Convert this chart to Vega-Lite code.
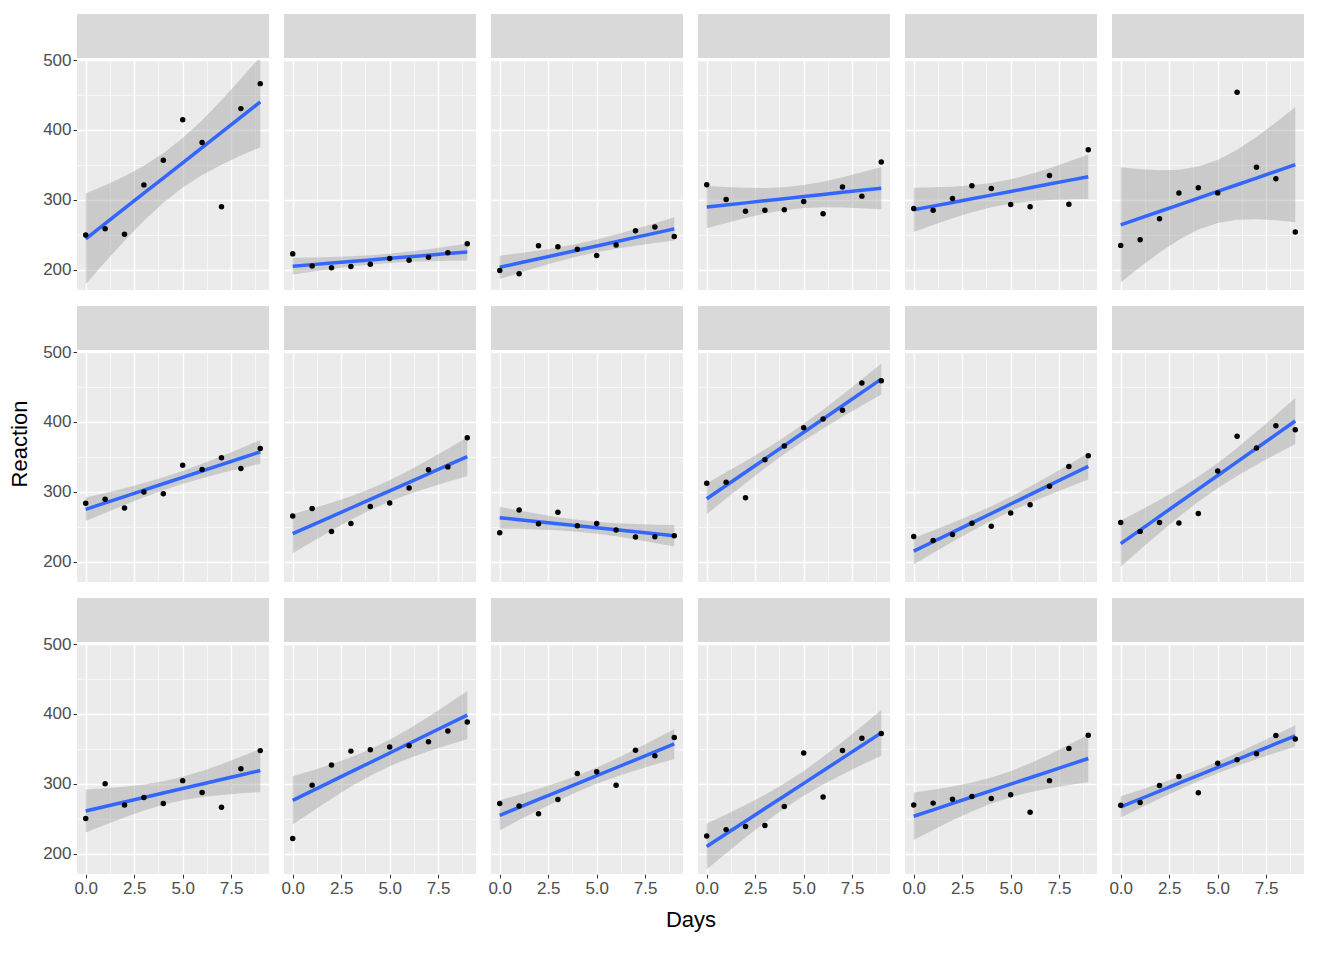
{
  "$schema": "https://vega.github.io/schema/vega-lite/v6.json",
  "background": "white",
  "padding": {"left": 8, "top": 14, "right": 5, "bottom": 5},
  "datasets": {
    "subjects": [
      {"Subject": 308, "r": 1, "c": 1}, {"Subject": 309, "r": 1, "c": 2}, {"Subject": 310, "r": 1, "c": 3},
      {"Subject": 330, "r": 1, "c": 4}, {"Subject": 331, "r": 1, "c": 5}, {"Subject": 332, "r": 1, "c": 6},
      {"Subject": 333, "r": 2, "c": 1}, {"Subject": 334, "r": 2, "c": 2}, {"Subject": 335, "r": 2, "c": 3},
      {"Subject": 337, "r": 2, "c": 4}, {"Subject": 349, "r": 2, "c": 5}, {"Subject": 350, "r": 2, "c": 6},
      {"Subject": 351, "r": 3, "c": 1}, {"Subject": 352, "r": 3, "c": 2}, {"Subject": 369, "r": 3, "c": 3},
      {"Subject": 370, "r": 3, "c": 4}, {"Subject": 371, "r": 3, "c": 5}, {"Subject": 372, "r": 3, "c": 6}
    ]
  },
  "data": {"values": [
    {"Subject":308,"Days":0,"Reaction":249.56},{"Subject":308,"Days":1,"Reaction":258.70},{"Subject":308,"Days":2,"Reaction":250.80},{"Subject":308,"Days":3,"Reaction":321.44},{"Subject":308,"Days":4,"Reaction":356.85},{"Subject":308,"Days":5,"Reaction":414.69},{"Subject":308,"Days":6,"Reaction":382.20},{"Subject":308,"Days":7,"Reaction":290.15},{"Subject":308,"Days":8,"Reaction":430.59},{"Subject":308,"Days":9,"Reaction":466.35},
    {"Subject":309,"Days":0,"Reaction":222.73},{"Subject":309,"Days":1,"Reaction":205.27},{"Subject":309,"Days":2,"Reaction":202.98},{"Subject":309,"Days":3,"Reaction":204.71},{"Subject":309,"Days":4,"Reaction":207.72},{"Subject":309,"Days":5,"Reaction":215.96},{"Subject":309,"Days":6,"Reaction":213.63},{"Subject":309,"Days":7,"Reaction":217.73},{"Subject":309,"Days":8,"Reaction":224.30},{"Subject":309,"Days":9,"Reaction":237.31},
    {"Subject":310,"Days":0,"Reaction":199.05},{"Subject":310,"Days":1,"Reaction":194.33},{"Subject":310,"Days":2,"Reaction":234.32},{"Subject":310,"Days":3,"Reaction":232.84},{"Subject":310,"Days":4,"Reaction":229.31},{"Subject":310,"Days":5,"Reaction":220.46},{"Subject":310,"Days":6,"Reaction":235.42},{"Subject":310,"Days":7,"Reaction":255.75},{"Subject":310,"Days":8,"Reaction":261.01},{"Subject":310,"Days":9,"Reaction":247.52},
    {"Subject":330,"Days":0,"Reaction":321.54},{"Subject":330,"Days":1,"Reaction":300.40},{"Subject":330,"Days":2,"Reaction":283.86},{"Subject":330,"Days":3,"Reaction":285.13},{"Subject":330,"Days":4,"Reaction":285.80},{"Subject":330,"Days":5,"Reaction":297.59},{"Subject":330,"Days":6,"Reaction":280.24},{"Subject":330,"Days":7,"Reaction":318.26},{"Subject":330,"Days":8,"Reaction":305.35},{"Subject":330,"Days":9,"Reaction":354.05},
    {"Subject":331,"Days":0,"Reaction":287.61},{"Subject":331,"Days":1,"Reaction":285.00},{"Subject":331,"Days":2,"Reaction":301.82},{"Subject":331,"Days":3,"Reaction":320.12},{"Subject":331,"Days":4,"Reaction":316.28},{"Subject":331,"Days":5,"Reaction":293.32},{"Subject":331,"Days":6,"Reaction":290.08},{"Subject":331,"Days":7,"Reaction":334.82},{"Subject":331,"Days":8,"Reaction":293.75},{"Subject":331,"Days":9,"Reaction":371.58},
    {"Subject":332,"Days":0,"Reaction":234.86},{"Subject":332,"Days":1,"Reaction":242.81},{"Subject":332,"Days":2,"Reaction":272.96},{"Subject":332,"Days":3,"Reaction":309.77},{"Subject":332,"Days":4,"Reaction":317.46},{"Subject":332,"Days":5,"Reaction":310.00},{"Subject":332,"Days":6,"Reaction":454.16},{"Subject":332,"Days":7,"Reaction":346.83},{"Subject":332,"Days":8,"Reaction":330.30},{"Subject":332,"Days":9,"Reaction":253.86},
    {"Subject":333,"Days":0,"Reaction":283.84},{"Subject":333,"Days":1,"Reaction":289.56},{"Subject":333,"Days":2,"Reaction":276.77},{"Subject":333,"Days":3,"Reaction":299.81},{"Subject":333,"Days":4,"Reaction":297.17},{"Subject":333,"Days":5,"Reaction":338.17},{"Subject":333,"Days":6,"Reaction":332.03},{"Subject":333,"Days":7,"Reaction":348.84},{"Subject":333,"Days":8,"Reaction":333.36},{"Subject":333,"Days":9,"Reaction":362.04},
    {"Subject":334,"Days":0,"Reaction":265.47},{"Subject":334,"Days":1,"Reaction":276.20},{"Subject":334,"Days":2,"Reaction":243.36},{"Subject":334,"Days":3,"Reaction":254.67},{"Subject":334,"Days":4,"Reaction":279.02},{"Subject":334,"Days":5,"Reaction":284.19},{"Subject":334,"Days":6,"Reaction":305.52},{"Subject":334,"Days":7,"Reaction":331.52},{"Subject":334,"Days":8,"Reaction":335.75},{"Subject":334,"Days":9,"Reaction":377.30},
    {"Subject":335,"Days":0,"Reaction":241.61},{"Subject":335,"Days":1,"Reaction":273.95},{"Subject":335,"Days":2,"Reaction":254.49},{"Subject":335,"Days":3,"Reaction":270.80},{"Subject":335,"Days":4,"Reaction":251.45},{"Subject":335,"Days":5,"Reaction":254.64},{"Subject":335,"Days":6,"Reaction":245.45},{"Subject":335,"Days":7,"Reaction":235.31},{"Subject":335,"Days":8,"Reaction":235.75},{"Subject":335,"Days":9,"Reaction":237.25},
    {"Subject":337,"Days":0,"Reaction":312.37},{"Subject":337,"Days":1,"Reaction":313.81},{"Subject":337,"Days":2,"Reaction":291.61},{"Subject":337,"Days":3,"Reaction":346.12},{"Subject":337,"Days":4,"Reaction":365.73},{"Subject":337,"Days":5,"Reaction":391.84},{"Subject":337,"Days":6,"Reaction":404.26},{"Subject":337,"Days":7,"Reaction":416.69},{"Subject":337,"Days":8,"Reaction":455.86},{"Subject":337,"Days":9,"Reaction":458.92},
    {"Subject":349,"Days":0,"Reaction":236.10},{"Subject":349,"Days":1,"Reaction":230.32},{"Subject":349,"Days":2,"Reaction":238.93},{"Subject":349,"Days":3,"Reaction":254.92},{"Subject":349,"Days":4,"Reaction":250.71},{"Subject":349,"Days":5,"Reaction":269.77},{"Subject":349,"Days":6,"Reaction":281.56},{"Subject":349,"Days":7,"Reaction":308.10},{"Subject":349,"Days":8,"Reaction":336.28},{"Subject":349,"Days":9,"Reaction":351.65},
    {"Subject":350,"Days":0,"Reaction":256.30},{"Subject":350,"Days":1,"Reaction":243.45},{"Subject":350,"Days":2,"Reaction":256.20},{"Subject":350,"Days":3,"Reaction":255.53},{"Subject":350,"Days":4,"Reaction":268.92},{"Subject":350,"Days":5,"Reaction":329.72},{"Subject":350,"Days":6,"Reaction":379.44},{"Subject":350,"Days":7,"Reaction":362.92},{"Subject":350,"Days":8,"Reaction":394.49},{"Subject":350,"Days":9,"Reaction":389.05},
    {"Subject":351,"Days":0,"Reaction":250.53},{"Subject":351,"Days":1,"Reaction":300.06},{"Subject":351,"Days":2,"Reaction":269.89},{"Subject":351,"Days":3,"Reaction":280.59},{"Subject":351,"Days":4,"Reaction":271.83},{"Subject":351,"Days":5,"Reaction":304.63},{"Subject":351,"Days":6,"Reaction":287.75},{"Subject":351,"Days":7,"Reaction":266.60},{"Subject":351,"Days":8,"Reaction":321.54},{"Subject":351,"Days":9,"Reaction":347.57},
    {"Subject":352,"Days":0,"Reaction":221.68},{"Subject":352,"Days":1,"Reaction":298.19},{"Subject":352,"Days":2,"Reaction":326.88},{"Subject":352,"Days":3,"Reaction":346.86},{"Subject":352,"Days":4,"Reaction":348.74},{"Subject":352,"Days":5,"Reaction":352.83},{"Subject":352,"Days":6,"Reaction":354.43},{"Subject":352,"Days":7,"Reaction":360.43},{"Subject":352,"Days":8,"Reaction":375.64},{"Subject":352,"Days":9,"Reaction":388.54},
    {"Subject":369,"Days":0,"Reaction":271.92},{"Subject":369,"Days":1,"Reaction":268.44},{"Subject":369,"Days":2,"Reaction":257.24},{"Subject":369,"Days":3,"Reaction":277.66},{"Subject":369,"Days":4,"Reaction":314.82},{"Subject":369,"Days":5,"Reaction":317.21},{"Subject":369,"Days":6,"Reaction":298.14},{"Subject":369,"Days":7,"Reaction":348.12},{"Subject":369,"Days":8,"Reaction":340.28},{"Subject":369,"Days":9,"Reaction":366.51},
    {"Subject":370,"Days":0,"Reaction":225.26},{"Subject":370,"Days":1,"Reaction":234.52},{"Subject":370,"Days":2,"Reaction":238.90},{"Subject":370,"Days":3,"Reaction":240.47},{"Subject":370,"Days":4,"Reaction":267.54},{"Subject":370,"Days":5,"Reaction":344.19},{"Subject":370,"Days":6,"Reaction":281.15},{"Subject":370,"Days":7,"Reaction":347.59},{"Subject":370,"Days":8,"Reaction":365.16},{"Subject":370,"Days":9,"Reaction":372.23},
    {"Subject":371,"Days":0,"Reaction":269.88},{"Subject":371,"Days":1,"Reaction":272.44},{"Subject":371,"Days":2,"Reaction":277.90},{"Subject":371,"Days":3,"Reaction":281.79},{"Subject":371,"Days":4,"Reaction":279.17},{"Subject":371,"Days":5,"Reaction":284.51},{"Subject":371,"Days":6,"Reaction":259.27},{"Subject":371,"Days":7,"Reaction":304.63},{"Subject":371,"Days":8,"Reaction":350.78},{"Subject":371,"Days":9,"Reaction":369.47},
    {"Subject":372,"Days":0,"Reaction":269.41},{"Subject":372,"Days":1,"Reaction":273.47},{"Subject":372,"Days":2,"Reaction":297.60},{"Subject":372,"Days":3,"Reaction":310.63},{"Subject":372,"Days":4,"Reaction":287.17},{"Subject":372,"Days":5,"Reaction":329.61},{"Subject":372,"Days":6,"Reaction":334.48},{"Subject":372,"Days":7,"Reaction":343.22},{"Subject":372,"Days":8,"Reaction":369.14},{"Subject":372,"Days":9,"Reaction":364.12}
  ]},
  "transform": [
    {"lookup": "Subject", "from": {"data": {"name": "subjects"}, "key": "Subject", "fields": ["r", "c"]}},
    {"joinaggregate": [{"op": "mean", "field": "Reaction", "as": "ybar"}], "groupby": ["Subject"]},
    {"calculate": "(datum.Days - 4.5) * (datum.Reaction - datum.ybar)", "as": "sxy_i"},
    {"joinaggregate": [{"op": "sum", "field": "sxy_i", "as": "sxy"}], "groupby": ["Subject"]},
    {"calculate": "datum.ybar + datum.sxy / 82.5 * (datum.Days - 4.5)", "as": "fit"},
    {"calculate": "pow(datum.Reaction - datum.fit, 2)", "as": "res2"},
    {"joinaggregate": [{"op": "sum", "field": "res2", "as": "sse"}], "groupby": ["Subject"]},
    {"calculate": "sqrt(datum.sse / 8) * sqrt(0.1 + pow(datum.Days - 4.5, 2) / 82.5)", "as": "se"},
    {"calculate": "datum.fit - 2.306 * datum.se", "as": "lo"},
    {"calculate": "datum.fit + 2.306 * datum.se", "as": "hi"}
  ],
  "facet": {
    "row": {"field": "r", "type": "ordinal", "header": {"labels": false, "title": "Reaction", "titleOrient": "left", "titleFontSize": 22, "titleFontWeight": "normal", "titleColor": "black", "titlePadding": 0}},
    "column": {"field": "c", "type": "ordinal", "header": {"labels": false, "title": "Days", "titleOrient": "bottom", "titleFontSize": 22, "titleFontWeight": "normal", "titleColor": "black", "titlePadding": 4}}
  },
  "spacing": {"row": 16, "column": 15},
  "spec": {
    "width": 192,
    "height": 276,
    "encoding": {
      "x": {"field": "Days", "type": "quantitative", "title": null,
        "scale": {"domain": [-0.45, 9.45], "nice": false, "zero": false},
        "axis": {"values": [0, 1.25, 2.5, 3.75, 5, 6.25, 7.5, 8.75],
          "labelExpr": "datum.value % 2.5 == 0 ? format(datum.value, '.1f') : ''",
          "gridWidth": {"condition": {"test": "datum.value % 2.5 == 0", "value": 1.4}, "value": 0.6},
          "tickOpacity": {"condition": {"test": "datum.value % 2.5 == 0", "value": 1}, "value": 0}}},
      "y": {"field": "Reaction", "type": "quantitative", "title": null,
        "scale": {"domain": [171, 566], "nice": false, "zero": false},
        "axis": {"values": [200, 250, 300, 350, 400, 450, 500],
          "labelExpr": "datum.value % 100 == 0 ? datum.value : ''",
          "gridWidth": {"condition": {"test": "datum.value % 100 == 0", "value": 1.4}, "value": 0.6},
          "tickOpacity": {"condition": {"test": "datum.value % 100 == 0", "value": 1}, "value": 0}}}
    },
    "layer": [
      {"mark": {"type": "area", "color": "#999999", "opacity": 0.4},
        "encoding": {"y": {"field": "lo", "type": "quantitative"}, "y2": {"field": "hi"}}},
      {"mark": {"type": "line", "color": "#3366FF", "strokeWidth": 3.5},
        "encoding": {"y": {"field": "fit", "type": "quantitative"}}},
      {"mark": {"type": "circle", "color": "black", "opacity": 1, "size": 30}},
      {"mark": {"type": "rect", "color": "white"},
        "encoding": {"x": {"datum": -0.45}, "x2": {"datum": 9.45}, "y": {"datum": 500.5}, "y2": {"datum": 503.5}}},
      {"mark": {"type": "rect", "color": "#D9D9D9"},
        "encoding": {"x": {"datum": -0.45}, "x2": {"datum": 9.45}, "y": {"datum": 503.5}, "y2": {"datum": 566}}},
      {"transform": [
          {"aggregate": [{"op": "count", "as": "n"}], "groupby": ["Subject", "r", "c"]},
          {"calculate": "'Subject = ' + datum.Subject", "as": "label"}
        ],
        "mark": {"type": "text", "fontSize": 17, "color": "#1A1A1A", "baseline": "middle"},
        "encoding": {"x": {"datum": 4.5}, "y": {"datum": 534.5}, "text": {"field": "label"}}}
    ]
  },
  "config": {
    "font": "Liberation Sans",
    "view": {"fill": "#EBEBEB", "stroke": null},
    "axis": {"gridColor": "white", "domain": false, "tickColor": "#333333", "tickSize": 4,
      "labelFontSize": 17, "labelColor": "#4D4D4D", "labelPadding": 2}
  }
}
